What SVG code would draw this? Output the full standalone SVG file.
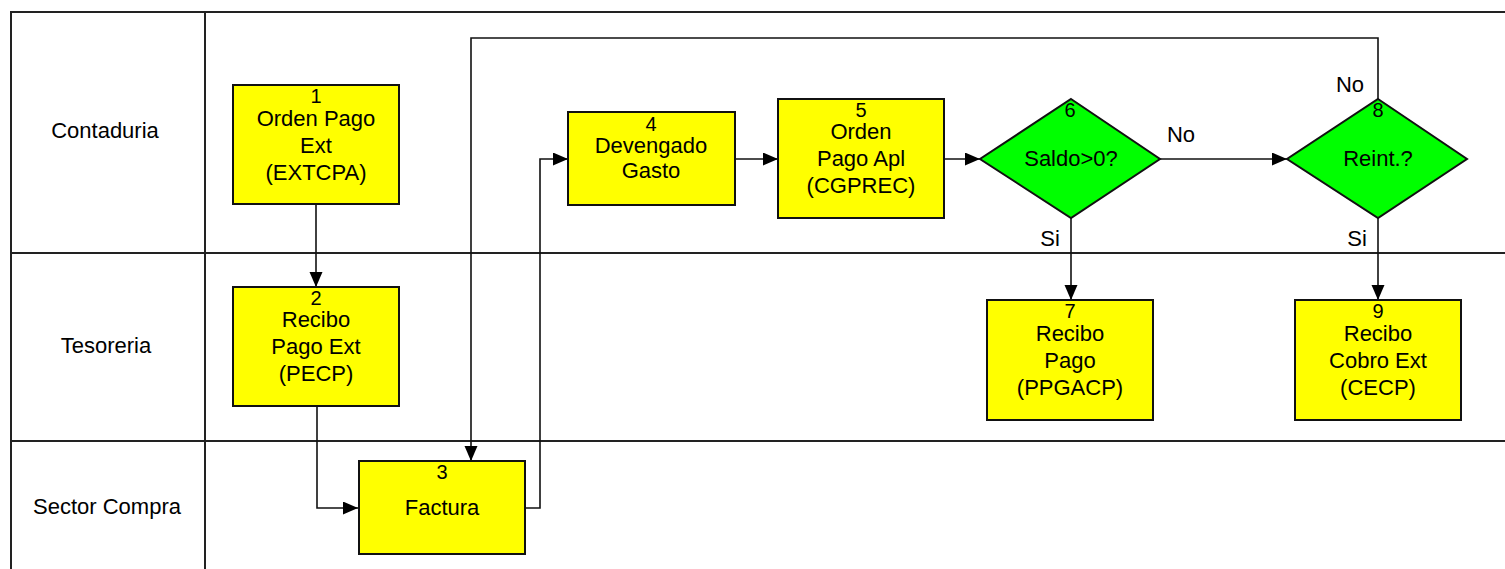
<svg xmlns="http://www.w3.org/2000/svg" width="1505" height="569" viewBox="0 0 1505 569">
<style>
text{font-family:"Liberation Sans",Arial,sans-serif;font-size:22px;fill:#000;text-anchor:middle}
.num{font-size:20px}
.lane{stroke:#222;stroke-width:2;fill:none}
.box{fill:#ffff00;stroke:#111;stroke-width:2}
.dia{fill:#00ff00;stroke:#111;stroke-width:2}
.con{fill:none;stroke:#111;stroke-width:1.6}
</style>
<defs>
<marker id="arr" markerUnits="userSpaceOnUse" markerWidth="16" markerHeight="14" refX="15" refY="6.5" orient="auto">
<path d="M0,0 L15,6.5 L0,13 z" fill="#000"/>
</marker>
</defs>
<rect width="1505" height="569" fill="#fff"/>
<g id="lanes">
<path class="lane" d="M11,575 V12 H1510"/>
<path class="lane" d="M205,12 V575"/>
<path class="lane" d="M11,253 H1510"/>
<path class="lane" d="M11,441 H1510"/>
<text x="105" y="138">Contaduria</text>
<text x="106" y="353">Tesoreria</text>
<text x="107" y="514">Sector Compra</text>
</g>
<g id="connectors">
<path class="con" d="M316,204 V287" marker-end="url(#arr)"/>
<path class="con" d="M317,406 V508 H358" marker-end="url(#arr)"/>
<path class="con" d="M525,508 H540 V159 H568" marker-end="url(#arr)"/>
<path class="con" d="M735,159 H778" marker-end="url(#arr)"/>
<path class="con" d="M944,159 H980" marker-end="url(#arr)"/>
<path class="con" d="M1160,159 H1287" marker-end="url(#arr)"/>
<path class="con" d="M1071,218 V300" marker-end="url(#arr)"/>
<path class="con" d="M1378,218 V300" marker-end="url(#arr)"/>
<path class="con" d="M1378,99 V38 H471 V461" marker-end="url(#arr)"/>
<text x="1181" y="142">No</text>
<text x="1350" y="92">No</text>
<text x="1050" y="246">Si</text>
<text x="1357" y="246">Si</text>
</g>
<g id="n1">
<rect class="box" x="233" y="85" width="166" height="119"/>
<text class="num" x="316" y="103">1</text>
<text x="316" y="126">Orden Pago</text>
<text x="316" y="153">Ext</text>
<text x="316" y="180">(EXTCPA)</text>
</g>
<g id="n2">
<rect class="box" x="233" y="287" width="166" height="119"/>
<text class="num" x="316" y="305">2</text>
<text x="316" y="327">Recibo</text>
<text x="316" y="354">Pago Ext</text>
<text x="316" y="381">(PECP)</text>
</g>
<g id="n3">
<rect class="box" x="359" y="461" width="166" height="93"/>
<text class="num" x="442" y="479">3</text>
<text x="442" y="515">Factura</text>
</g>
<g id="n4">
<rect class="box" x="568" y="112" width="167" height="93"/>
<text class="num" x="651" y="131">4</text>
<text x="651" y="153">Devengado</text>
<text x="651" y="178">Gasto</text>
</g>
<g id="n5">
<rect class="box" x="778" y="99" width="166" height="119"/>
<text class="num" x="861" y="117">5</text>
<text x="861" y="139">Orden</text>
<text x="861" y="166">Pago Apl</text>
<text x="861" y="193">(CGPREC)</text>
</g>
<g id="n6">
<polygon class="dia" points="1071,99 1160,159 1071,218 980,159"/>
<text class="num" x="1070" y="117">6</text>
<text x="1071" y="166">Saldo&gt;0?</text>
</g>
<g id="n7">
<rect class="box" x="987" y="300" width="166" height="120"/>
<text class="num" x="1070" y="318">7</text>
<text x="1070" y="341">Recibo</text>
<text x="1070" y="368">Pago</text>
<text x="1070" y="395">(PPGACP)</text>
</g>
<g id="n8">
<polygon class="dia" points="1378,99 1467,159 1378,218 1287,159"/>
<text class="num" x="1378" y="117">8</text>
<text x="1378" y="166">Reint.?</text>
</g>
<g id="n9">
<rect class="box" x="1295" y="300" width="166" height="120"/>
<text class="num" x="1378" y="318">9</text>
<text x="1378" y="341">Recibo</text>
<text x="1378" y="368">Cobro Ext</text>
<text x="1378" y="395">(CECP)</text>
</g>
</svg>
